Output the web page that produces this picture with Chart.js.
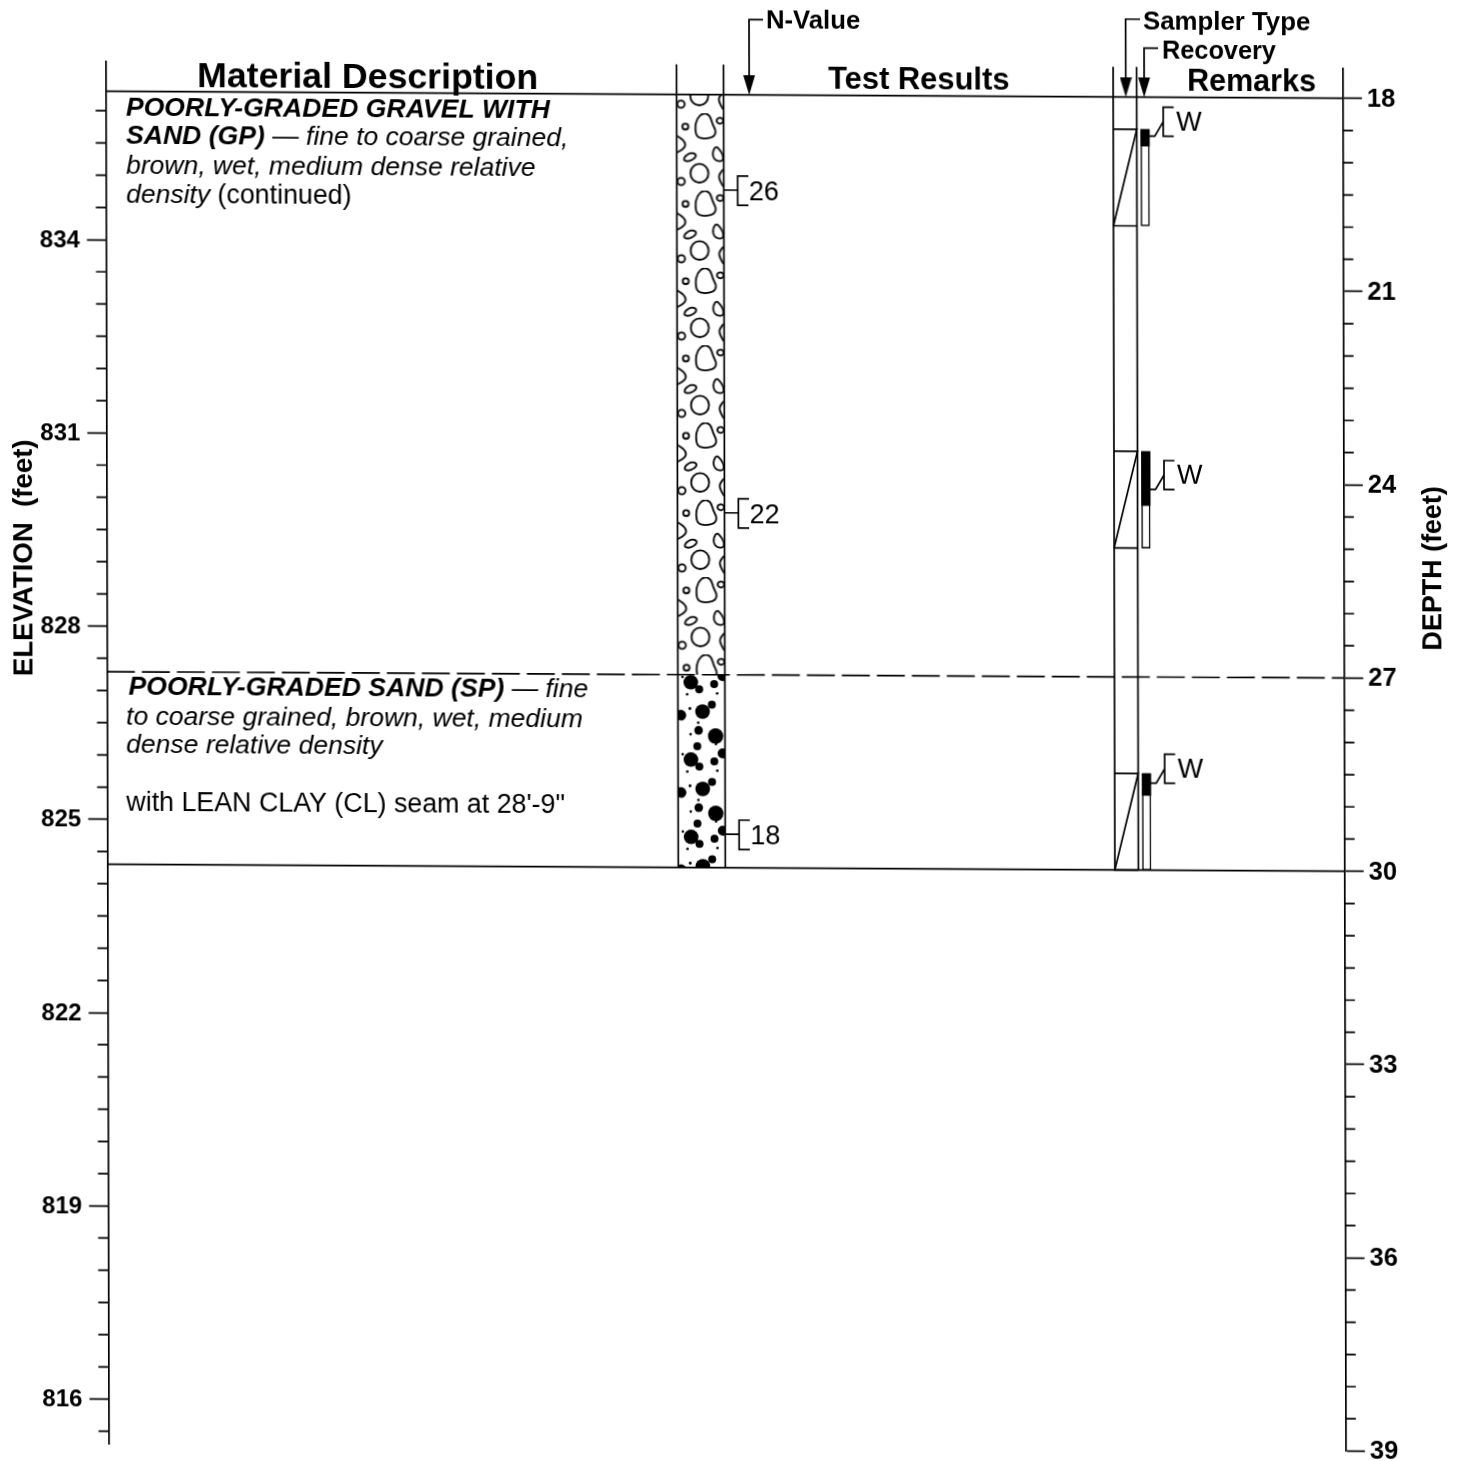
<!DOCTYPE html>
<html>
<head>
<meta charset="utf-8">
<title>Boring log</title>
<script src="https://cdn.jsdelivr.net/npm/chart.js@4"></script>
<style>
    html, body { margin: 0; padding: 0; background: #fff; overflow: hidden; }
    /* the scanned sheet is slightly skewed, so the whole canvas is too */
    #log { display: block; transform-origin: 0 0; transform: matrix(1, 0.00566, 0.0022, 1, 0, 0); }
</style>
</head>
<body>
<canvas id="log" width="1461" height="1461"></canvas>
<script>
// Axis ticks
const elevationTicks = [834, 831, 828, 825, 822, 819, 816];
const elevationMinorTicks = [836, 835.5, 835, 834.5, 833.5, 833, 832.5, 832, 831.5, 830.5, 830, 829.5, 829, 828.5,
    827.5, 827, 826.5, 826, 825.5, 824.5, 824, 823.5, 823, 822.5, 821.5, 821, 820.5, 820, 819.5,
    818.5, 818, 817.5, 817, 816.5, 815.5];
const depthTicks = [18, 21, 24, 27, 30, 33, 36, 39];
const depthMinorTicks = [18.5, 19, 19.5, 20, 20.5, 21.5, 22, 22.5, 23, 23.5, 24.5, 25, 25.5, 26, 26.5,
    27.5, 28, 28.5, 29, 29.5, 30.5, 31, 31.5, 32, 32.5, 33.5, 34, 34.5, 35, 35.5,
    36.5, 37, 37.5, 38, 38.5];

// Layers (depth, feet)
const gravelLayer = [18, 27];
const sandLayer = [27, 30];

// Samples
const sampleTop = [18.5, 23.5, 28.5];
const sampleBottom = [20, 25, 30];
const recoveredTo = [18.76, 24.34, 28.84];
const remarks = ['W', 'W', 'W'];
const remarkTop = [18.155, 23.64, 28.2];
const remarkBottom = [18.605, 24.09, 28.65];

// N-values
const nValues = [26, 22, 18];
const nDepths = [19.48, 24.49, 29.48];

// Text of the log
const gravelLines = [
    [['POORLY-GRADED GRAVEL WITH', 'bi']],
    [['SAND (GP)', 'bi'], [' \u2014 fine to coarse grained,', 'i']],
    [['brown, wet, medium dense relative', 'i']],
    [['density', 'i'], [' (continued)', 'r']],
];
const gravelLineDepths = [18.37, 18.82, 19.285, 19.73];
const sandLines = [
    [['POORLY-GRADED SAND (SP)', 'bi'], [' \u2014 fine', 'i']],
    [['to coarse grained, brown, wet, medium', 'i']],
    [['dense relative density', 'i']],
    [['with LEAN CLAY (CL) seam at 28\'-9"', 'r']],
];
const sandLineDepths = [27.365, 27.83, 28.265, 29.16];

const FONT = '"Liberation Sans", Arial, sans-serif';
const INK = '#000';
const fontStyles = {
    bi: `italic bold 26.6px ${FONT}`,
    i: `italic 26.5px ${FONT}`,
    r: `26.8px ${FONT}`,
};

// x scale is just the width of the sheet, columns sit at these positions
const COL_LEFT = 105.4, COL_RIGHT = 1342.8;
const LITH_L = 676.4, LITH_R = 723.4;
const SAMP_L = 1113, SAMP_R = 1136.5;
const REC_X = 1144.8;
const TOP = 17.53;

function segments(list) {
    const out = [];
    list.forEach((seg) => {
        seg.forEach((p) => out.push({ x: p[0], y: p[1] }));
        out.push({ x: null, y: null });
    });
    return out;
}

function lineSet(data, axis, extra) {
    return Object.assign({
        type: 'scatter', showLine: true, data: data, yAxisID: axis, xAxisID: 'x',
        borderColor: INK, borderWidth: 1.7, pointRadius: 0, clip: false, spanGaps: false,
    }, extra || {});
}

function smoothShape(ctx, pts, closed) {
    ctx.beginPath();
    const n = pts.length;
    if (closed) {
        ctx.moveTo((pts[n - 1][0] + pts[0][0]) / 2, (pts[n - 1][1] + pts[0][1]) / 2);
        pts.forEach((p, i) => {
            const q = pts[(i + 1) % n];
            ctx.quadraticCurveTo(p[0], p[1], (p[0] + q[0]) / 2, (p[1] + q[1]) / 2);
        });
        ctx.closePath();
    } else {
        ctx.moveTo(pts[0][0], pts[0][1]);
        for (let i = 1; i < n - 1; i++) {
            const q = pts[i + 1];
            const end = i === n - 2 ? q : [(pts[i][0] + q[0]) / 2, (pts[i][1] + q[1]) / 2];
            ctx.quadraticCurveTo(pts[i][0], pts[i][1], end[0], end[1]);
        }
    }
    ctx.stroke();
}

// Gravel hatch, drawn at 3x then scaled into a repeating tile
function gravelPattern() {
    const tile = document.createElement('canvas');
    tile.width = 48;
    tile.height = 77;
    const c = tile.getContext('2d');
    c.fillStyle = '#fff';
    c.fillRect(0, 0, 48, 77);
    c.scale(1 / 3, 77 / 232);
    c.translate(-50, -100);
    c.strokeStyle = INK;
    c.lineWidth = 5.5;
    smoothShape(c, [[130, 98], [150, 106], [157, 132], [168, 152], [163, 170], [135, 177], [110, 172], [105, 145], [110, 116]], true);
    smoothShape(c, [[50, 168], [68, 178], [78, 195], [68, 210], [50, 218]], false);
    smoothShape(c, [[70, 241], [76, 227], [95, 217], [110, 225], [101, 239], [82, 245]], true);
    smoothShape(c, [[168, 198], [182, 212], [191, 232], [187, 244], [168, 243], [158, 230], [159, 212]], true);
    smoothShape(c, [[190, 268], [178, 280], [176, 298], [190, 320]], false);
    [[76, 140, 9, 9], [180, 122, 10, 9], [118, 280, 27, 28], [63, 305, 11, 11]].forEach((e) => {
        c.beginPath();
        c.ellipse(e[0], e[1], e[2], e[3], 0, 0, Math.PI * 2);
        c.stroke();
    });
    const pattern = c.createPattern(tile, 'repeat');
    pattern.setTransform(new DOMMatrix().translate(LITH_L, 109.3).scale(1, 77.3 / 77));
    return pattern;
}

// Sand hatch, black dots
function sandPattern() {
    const tile = document.createElement('canvas');
    tile.width = 48;
    tile.height = 77;
    const c = tile.getContext('2d');
    c.fillStyle = '#fff';
    c.fillRect(0, 0, 48, 77);
    c.scale(1 / 3, 77 / 232);
    c.translate(-53, -72);
    c.fillStyle = INK;
    const dots = [[93, 97, 22], [118, 118, 12], [163, 102, 12], [82, 133, 4], [172, 130, 4], [156, 164, 12],
        [128, 185, 22], [63, 196, 16], [90, 176, 4.5], [115, 218, 4], [116, 241, 13], [92, 253, 4],
        [167, 258, 23], [168, 282, 4], [112, 289, 12], [188, 310, 15], [68, 313, 4]];
    dots.forEach((d) => {
        [-232, 0, 232].forEach((shift) => {
            c.beginPath();
            c.arc(d[0], d[1] + shift, d[2], 0, Math.PI * 2);
            c.fill();
        });
    });
    const pattern = c.createPattern(tile, 'repeat');
    pattern.setTransform(new DOMMatrix().translate(676, 670).scale(1, 77.3 / 77));
    return pattern;
}

function arrowSprite() {
    const s = document.createElement('canvas');
    s.width = 12;
    s.height = 20;
    const c = s.getContext('2d');
    c.fillStyle = INK;
    c.beginPath();
    c.moveTo(0, 0);
    c.lineTo(12, 0);
    c.lineTo(6, 20);
    c.closePath();
    c.fill();
    return s;
}

// Everything that is not an axis tick text goes through this plugin
const textPlugin = {
    id: 'logText',
    afterDatasetsDraw(chart) {
        const ctx = chart.ctx;
        const xs = chart.scales.x;
        const ys = chart.scales.depth;
        const put = (text, x, depth, font) => {
            ctx.font = font;
            ctx.fillText(text, xs.getPixelForValue(x), ys.getPixelForValue(depth));
        };
        const putRuns = (runs, x, depth) => {
            let px = xs.getPixelForValue(x);
            const py = ys.getPixelForValue(depth);
            runs.forEach((run) => {
                ctx.font = fontStyles[run[1]];
                ctx.fillText(run[0], px, py);
                px += ctx.measureText(run[0]).width;
            });
        };
        const putUp = (text, x, depth, font) => {
            ctx.save();
            ctx.translate(xs.getPixelForValue(x), ys.getPixelForValue(depth));
            ctx.rotate(-Math.PI / 2);
            ctx.textAlign = 'center';
            ctx.font = font;
            ctx.fillText(text, 0, 0);
            ctx.restore();
        };

        ctx.save();
        ctx.fillStyle = INK;
        ctx.textBaseline = 'alphabetic';
        ctx.textAlign = 'left';

        put('Material Description', 197, 17.93, `bold 35.7px ${FONT}`);
        put('Test Results', 828, 17.89, `bold 30.9px ${FONT}`);
        put('Remarks', 1187, 17.9, `bold 30.5px ${FONT}`);
        put('N-Value', 766, 16.96, `bold 25.7px ${FONT}`);
        put('Sampler Type', 1143, 16.95, `bold 25.8px ${FONT}`);
        put('Recovery', 1162, 17.4, `bold 25.3px ${FONT}`);

        gravelLines.forEach((runs, i) => putRuns(runs, 125.7, gravelLineDepths[i]));
        sandLines.forEach((runs, i) => putRuns(runs, i === 0 ? 127 : 124.6, sandLineDepths[i]));

        nValues.forEach((v, i) => put(String(v), 748.5, nDepths[i] + 0.155, `27px ${FONT}`));
        remarks.forEach((r, i) => put(r, 1176, remarkBottom[i] - 0.09, `27px ${FONT}`));

        putUp('ELEVATION  (feet)', 30.5, 25.25, `bold 27.6px ${FONT}`);
        putUp('DEPTH (feet)', 1440, 25.29, `bold 26.9px ${FONT}`);
        ctx.restore();
    },
};

const nBrackets = [];
nDepths.forEach((d) => {
    nBrackets.push([[LITH_R, d], [737.3, d]]);
    nBrackets.push([[748, d - 0.22], [737.3, d - 0.22], [737.3, d + 0.235], [748, d + 0.235]]);
});

const remarkBrackets = [];
remarkTop.forEach((top, i) => {
    const bottom = remarkBottom[i];
    remarkBrackets.push([[1173.5, top], [1163, top], [1163, bottom], [1173.5, bottom]]);
    remarkBrackets.push([[1149, bottom], [1154.5, bottom], [1163, (top + bottom) / 2]]);
});

const samplerBoxes = [];
sampleTop.forEach((top, i) => {
    const bottom = sampleBottom[i];
    samplerBoxes.push([[SAMP_L, top], [SAMP_R, top], [SAMP_L, bottom], [SAMP_R, bottom]]);
});

const rules = segments([
    [[COL_LEFT, 18], [COL_RIGHT, 18]],
    [[COL_LEFT, 30], [COL_RIGHT, 30]],
    [[LITH_L, TOP], [LITH_L, 30]],
    [[LITH_R, TOP], [LITH_R, 30]],
    [[SAMP_L, TOP], [SAMP_L, 30]],
    [[SAMP_R, TOP], [SAMP_R, 30]],
]);

const leaders = segments([
    [[763, 16.83], [749, 16.83], [749, 17.9]],
    [[1140, 16.79], [1125.6, 16.79], [1125.6, 17.9]],
    [[1158, 17.24], [1144, 17.24], [1144, 17.9]],
]);

const barBase = {
    type: 'bar', xAxisID: 'x', yAxisID: 'depth', grouped: false, clip: false,
};

// tick labels must not push the plot area in, both axes share one height
function fixAxisWidth(width) {
    return (scale) => {
        scale.width = width;
        scale.paddingTop = 0;
        scale.paddingBottom = 0;
    };
}

new Chart(document.getElementById('log'), {
    type: 'scatter',
    data: {
        datasets: [
            lineSet(rules, 'depth'),
            lineSet([{ x: COL_LEFT, y: 27.01 }, { x: COL_RIGHT, y: 27 }], 'depth', { borderDash: [28, 7] }),
            lineSet(segments(samplerBoxes), 'depth'),
            lineSet(segments(nBrackets), 'depth'),
            lineSet(segments(remarkBrackets), 'depth'),
            lineSet(leaders, 'depth'),
            lineSet(segments(elevationMinorTicks.map((v) => [[COL_LEFT - 10, v], [COL_LEFT, v]])), 'elevation'),
            lineSet(segments(depthMinorTicks.map((v) => [[COL_RIGHT, v], [COL_RIGHT + 10, v]])), 'depth'),
            {
                type: 'scatter', xAxisID: 'x', yAxisID: 'depth', clip: false,
                data: [{ x: 749, y: 17.845 }, { x: 1125.6, y: 17.845 }, { x: 1144, y: 17.845 }],
                pointStyle: arrowSprite(), showLine: false,
            },
            Object.assign({}, barBase, {
                label: 'Recovered',
                data: sampleTop.map((top, i) => ({ x: REC_X, y: [top, recoveredTo[i]] })),
                backgroundColor: INK, barThickness: 8.5,
            }),
            Object.assign({}, barBase, {
                label: 'Sample',
                data: sampleTop.map((top, i) => ({ x: REC_X, y: [top, sampleBottom[i]] })),
                backgroundColor: '#fff', borderColor: INK, borderWidth: 1.5, barThickness: 8.5,
            }),
            Object.assign({}, barBase, {
                label: 'Gravel',
                data: [{ x: (LITH_L + LITH_R) / 2, y: gravelLayer }],
                backgroundColor: gravelPattern(), barThickness: LITH_R - LITH_L,
            }),
            Object.assign({}, barBase, {
                label: 'Sand',
                data: [{ x: (LITH_L + LITH_R) / 2, y: sandLayer }],
                backgroundColor: sandPattern(), barThickness: LITH_R - LITH_L,
            }),
        ],
    },
    options: {
        responsive: false,
        animation: false,
        events: [],
        layout: { padding: { top: 60.4, bottom: 17.6, left: 0, right: 0 } },
        plugins: { legend: { display: false }, tooltip: { enabled: false }, title: { display: false } },
        scales: {
            x: {
                type: 'linear', display: false, min: COL_LEFT, max: COL_RIGHT, offset: false,
            },
            elevation: {
                type: 'linear', position: 'left', min: 815.303, max: 836.773,
                afterBuildTicks: (scale) => { scale.ticks = elevationTicks.map((v) => ({ value: v })); },
                afterFit: fixAxisWidth(COL_LEFT),
                border: { display: true, color: INK, width: 1.7 },
                grid: { drawOnChartArea: false, tickLength: 19, tickColor: INK, tickWidth: 1.7 },
                ticks: {
                    color: INK, padding: 7, autoSkip: false, maxRotation: 0, labelOffset: 1,
                    font: { family: FONT, size: 24, weight: 'bold' },
                    callback: (v) => String(v),
                },
            },
            depth: {
                type: 'linear', position: 'right', reverse: true, min: TOP, max: 39, beginAtZero: false,
                afterBuildTicks: (scale) => { scale.ticks = depthTicks.map((v) => ({ value: v })); },
                afterFit: fixAxisWidth(1461 - COL_RIGHT),
                border: { display: true, color: INK, width: 1.7 },
                grid: { drawOnChartArea: false, tickLength: 19, tickColor: INK, tickWidth: 1.7 },
                ticks: {
                    color: INK, padding: 5, autoSkip: false, maxRotation: 0, labelOffset: 1,
                    font: { family: FONT, size: 25.5, weight: 'bold' },
                    callback: (v) => String(v),
                },
            },
        },
    },
    plugins: [textPlugin],
});
</script>
</body>
</html>
